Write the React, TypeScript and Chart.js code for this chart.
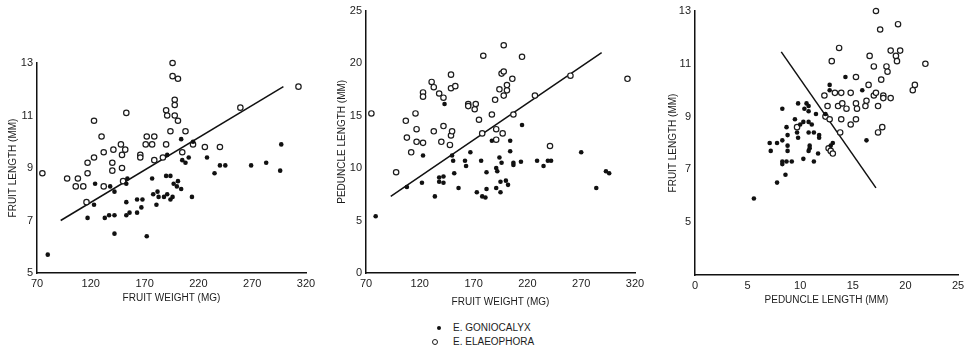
import React, { useEffect, useRef } from "react";
import { Chart, registerables } from "chart.js";

Chart.register(...registerables);

type Pt = [number, number];

// Panel 1: fruit weight (mg) vs fruit length (mm)
const wlGoniocalyx: Pt[] = [
  [80, 5.7], [117, 7.1], [123, 7.6], [124, 8.4], [133, 7.1], [137, 7.2], [142, 7.2], [142, 6.5],
  [138, 8.3], [142, 8.1], [153, 7.7], [153, 7.2], [153, 8.4], [154, 8.6], [156, 7.3], [163, 7.8],
  [163, 7.3], [167, 7.5], [168, 7.8], [172, 6.4], [177, 8.6], [178, 8.0], [182, 8.1], [181, 7.6],
  [183, 7.9], [188, 7.9], [191, 8.0], [190, 8.7], [194, 8.7], [194, 7.8], [196, 7.9], [197, 8.4],
  [200, 8.3], [201, 8.5], [204, 8.2], [191, 9.5], [204, 10.1], [205, 9.3], [208, 9.2], [211, 9.4],
  [214, 7.9], [215, 10.0], [228, 9.4], [235, 8.8], [240, 9.1], [245, 9.1], [269, 9.1], [283, 9.2],
  [296, 8.9], [297, 9.9],
];
const wlElaeophora: Pt[] = [
  [75, 8.8], [98, 8.6], [108, 8.6], [106, 8.3], [113, 8.3], [117, 8.8], [117, 9.2], [123, 9.4],
  [116, 7.7], [123, 10.8], [130, 10.2], [132, 9.6], [141, 9.7], [140, 9.2], [140, 8.9], [132, 8.3],
  [148, 9.9], [149, 9.5], [152, 9.7], [149, 9.0], [150, 8.5], [153, 11.1], [172, 10.2], [171, 9.9],
  [177, 9.9], [179, 10.2], [166, 9.5], [166, 9.4], [179, 9.3], [187, 9.4], [190, 9.9], [190, 11.2],
  [191, 11.0], [196, 13.0], [196, 12.5], [201, 12.4], [198, 11.6], [198, 11.4], [198, 11.0], [201, 10.8],
  [194, 10.4], [208, 10.4], [205, 9.6], [215, 9.9], [226, 9.8], [240, 9.8], [259, 11.3], [313, 12.1],
];
const wlLine: Pt[] = [[92, 7.0], [299, 12.1]];

// Panel 2: fruit weight (mg) vs peduncle length (mm)
const wpGoniocalyx: Pt[] = [
  [79, 5.4], [108, 8.2], [122, 8.6], [123, 11.2], [134, 7.3], [138, 8.7], [138, 9.1], [142, 8.6],
  [142, 9.2], [143, 16.1], [150, 11.2], [151, 10.7], [152, 9.5], [156, 8.1], [162, 10.7], [163, 10.2],
  [167, 11.5], [173, 7.7], [177, 10.7], [178, 7.3], [181, 7.2], [182, 9.6], [182, 8.0], [187, 12.6],
  [191, 10.0], [192, 9.7], [191, 8.1], [194, 11.0], [196, 10.5], [195, 7.7], [195, 8.7], [200, 8.8],
  [202, 8.4], [204, 12.6], [204, 11.6], [207, 10.5], [207, 10.3], [215, 14.1], [214, 10.6], [229, 10.7],
  [235, 10.2], [239, 10.7], [242, 10.7], [270, 11.5], [284, 8.1], [293, 9.7], [296, 9.5],
];
const wpElaeophora: Pt[] = [
  [75, 15.2], [98, 9.6], [107, 14.5], [108, 12.9], [112, 11.5], [116, 15.2], [117, 13.7], [117, 12.5],
  [123, 17.2], [123, 16.8], [123, 12.4], [131, 18.2], [133, 17.7], [133, 13.5], [138, 17.1], [140, 12.5],
  [142, 16.7], [142, 14.0], [149, 18.9], [149, 17.6], [149, 13.1], [150, 13.5], [153, 17.8], [148, 12.2],
  [165, 16.1], [165, 15.9], [172, 16.1], [171, 15.6], [175, 14.6], [179, 20.7], [178, 13.3], [187, 15.1],
  [190, 16.5], [191, 13.7], [191, 12.7], [194, 17.5], [196, 19.0], [198, 19.2], [198, 21.7], [197, 13.3],
  [198, 16.9], [201, 17.9], [201, 17.4], [206, 18.5], [207, 15.1], [215, 20.6], [227, 16.9], [241, 12.1],
  [260, 18.8], [313, 18.5],
];
const wpLine: Pt[] = [[93, 7.3], [289, 21.0]];

// Panel 3: peduncle length (mm) vs fruit length (mm)
const plGoniocalyx: Pt[] = [
  [5.6, 5.9], [7.8, 6.5], [8.6, 6.8], [7.1, 8.0], [7.2, 7.7], [7.8, 8.0], [8.3, 8.1], [8.3, 9.3],
  [8.7, 8.6], [8.8, 8.3], [8.8, 7.9], [8.8, 7.7], [8.3, 7.3], [8.3, 7.2], [8.7, 7.3], [9.2, 7.3],
  [9.5, 8.9], [9.7, 8.4], [9.8, 8.2], [9.8, 9.5], [10.0, 8.7], [10.3, 8.8], [10.4, 9.3], [10.3, 7.4],
  [10.6, 9.5], [10.8, 9.4], [10.8, 9.2], [10.8, 8.8], [10.8, 8.4], [10.9, 7.9], [10.9, 7.8], [10.8, 7.7],
  [11.1, 8.7], [11.3, 8.4], [11.3, 7.3], [11.5, 9.1], [11.7, 7.6], [11.8, 8.3], [11.8, 8.2], [12.4, 9.1],
  [12.8, 10.2], [12.8, 10.0], [12.9, 7.9], [13.1, 8.0], [14.3, 10.5], [15.9, 10.0], [16.3, 8.1],
];
const plElaeophora: Pt[] = [
  [17.2, 13.0], [17.6, 12.3], [19.3, 12.5], [13.7, 11.6], [13.0, 11.1], [16.6, 11.3], [17.0, 10.9],
  [18.6, 11.5], [19.1, 11.3], [19.5, 11.5], [19.2, 11.1], [18.2, 10.9], [18.3, 10.7], [21.9, 11.0],
  [17.7, 10.4], [15.3, 10.5], [16.5, 10.2], [20.9, 10.2], [20.7, 10.0], [12.3, 9.8], [13.3, 9.9],
  [13.9, 9.9], [14.8, 9.9], [12.6, 9.4], [13.6, 9.4], [14.0, 9.5], [14.4, 9.3], [15.3, 9.5],
  [15.4, 9.3], [16.2, 9.4], [16.3, 9.6], [17.0, 9.8], [17.4, 9.4], [17.2, 9.9], [17.9, 9.8],
  [17.9, 9.7], [18.6, 9.7], [12.4, 9.0], [12.8, 8.9], [13.9, 8.9], [14.8, 8.7], [15.3, 8.9],
  [13.8, 8.4], [17.4, 8.4], [17.8, 8.6], [9.7, 8.6], [12.7, 7.8], [12.9, 7.7], [13.1, 7.6],
];
const plLine: Pt[] = [[8.2, 11.45], [17.2, 6.3]];

const weightTicks = [70, 120, 170, 220, 270, 320];
const fruitLenTicks = [5, 7, 9, 11, 13];
const peduncleTicks = [0, 5, 10, 15, 20, 25];

const legendLabels = ["E. GONIOCALYX", "E. ELAEOPHORA"];

const FONT = "'Liberation Sans', Arial, sans-serif";
const INK = "#1c1c1c";

interface PanelCfg {
  left: number;
  width: number;
  height: number;
  padTop: number;
  padRight: number;
  yWidth: number;
  xHeight: number;
  xMin: number;
  xMax: number;
  xTicks: number[];
  yMin: number;
  yMax: number;
  yTicks: number[];
  xTitle: string;
  yTitle: string;
  xTitlePad: number;
  yTitlePad: number;
  gonio: Pt[];
  elaeo: Pt[];
  line: Pt[];
}

const toXY = (a: Pt[]) => a.map(([x, y]) => ({ x, y }));

function Panel({ cfg }: { cfg: PanelCfg }) {
  const ref = useRef<HTMLCanvasElement>(null);
  useEffect(() => {
    const titleFont = { family: FONT, size: 10 };
    const tickFont = { family: FONT, size: 11 };
    const chart = new Chart(ref.current!, {
      type: "scatter",
      data: {
        datasets: [
          {
            label: legendLabels[0],
            data: toXY(cfg.gonio),
            pointRadius: 2.3,
            pointBackgroundColor: "#111",
            pointBorderColor: "#111",
            pointBorderWidth: 0,
            clip: false,
          },
          {
            label: legendLabels[1],
            data: toXY(cfg.elaeo),
            pointRadius: 2.7,
            pointBackgroundColor: "#fff",
            pointBorderColor: INK,
            pointBorderWidth: 1.2,
            clip: false,
          },
          {
            label: "fit",
            data: toXY(cfg.line),
            showLine: true,
            borderColor: "#111",
            borderWidth: 1.5,
            pointRadius: 0,
            clip: false,
          },
        ],
      },
      options: {
        responsive: false,
        animation: false,
        devicePixelRatio: 1,
        events: [],
        layout: { padding: { top: cfg.padTop, right: cfg.padRight, left: 0, bottom: 0 } },
        plugins: { legend: { display: false }, tooltip: { enabled: false } },
        scales: {
          x: {
            type: "linear",
            min: cfg.xMin,
            max: cfg.xMax,
            afterFit: (s: any) => {
              s.height = cfg.xHeight;
            },
            afterBuildTicks: (s: any) => {
              s.ticks = cfg.xTicks.map((v) => ({ value: v }));
            },
            ticks: { padding: 4, color: INK, font: tickFont, maxRotation: 0, autoSkip: false },
            grid: { display: false, drawTicks: false, tickLength: 0 },
            border: { display: true, color: "#111", width: 1.5 },
            title: {
              display: true,
              text: cfg.xTitle,
              color: INK,
              font: titleFont,
              padding: { top: 0, bottom: cfg.xTitlePad },
            },
          },
          y: {
            type: "linear",
            min: cfg.yMin,
            max: cfg.yMax,
            afterFit: (s: any) => {
              s.width = cfg.yWidth;
            },
            afterBuildTicks: (s: any) => {
              s.ticks = cfg.yTicks.map((v) => ({ value: v }));
            },
            ticks: { padding: 4, color: INK, font: tickFont, autoSkip: false },
            grid: { display: false, drawTicks: false, tickLength: 0 },
            border: { display: true, color: "#111", width: 1.5 },
            title: {
              display: true,
              text: cfg.yTitle,
              color: INK,
              font: titleFont,
              padding: { top: cfg.yTitlePad, bottom: 0 },
            },
          },
        },
      } as any,
    });
    return () => chart.destroy();
  }, [cfg]);
  return (
    <canvas
      ref={ref}
      width={cfg.width}
      height={cfg.height}
      style={{ position: "absolute", left: cfg.left, top: 0, width: cfg.width, height: cfg.height }}
    />
  );
}

const panels: PanelCfg[] = [
  {
    left: 0, width: 320, height: 310, padTop: 63, padRight: 14, yWidth: 37, xHeight: 37,
    xMin: 70, xMax: 320, xTicks: weightTicks, yMin: 5, yMax: 13, yTicks: fruitLenTicks,
    xTitle: "FRUIT WEIGHT (MG)", yTitle: "FRUIT LENGTH (MM)", xTitlePad: 6, yTitlePad: 7,
    gonio: wlGoniocalyx, elaeo: wlElaeophora, line: wlLine,
  },
  {
    left: 320, width: 330, height: 310, padTop: 10, padRight: 15, yWidth: 46, xHeight: 37,
    xMin: 70, xMax: 320, xTicks: weightTicks, yMin: 0, yMax: 25, yTicks: peduncleTicks,
    xTitle: "FRUIT WEIGHT (MG)", yTitle: "PEDUNCLE LENGTH (MM)", xTitlePad: 2, yTitlePad: 16,
    gonio: wpGoniocalyx, elaeo: wpElaeophora, line: wpLine,
  },
  {
    left: 650, width: 319, height: 310, padTop: 11, padRight: 11, yWidth: 45, xHeight: 35,
    xMin: 0, xMax: 25, xTicks: peduncleTicks, yMin: 3, yMax: 13, yTicks: fruitLenTicks,
    xTitle: "PEDUNCLE LENGTH (MM)", yTitle: "FRUIT LENGTH (MM)", xTitlePad: 4, yTitlePad: 17,
    gonio: plGoniocalyx, elaeo: plElaeophora, line: plLine,
  },
];

export default function App() {
  const textStyle: React.CSSProperties = {
    position: "absolute",
    left: 453,
    fontFamily: FONT,
    fontSize: 10,
    color: INK,
    lineHeight: "12px",
    whiteSpace: "nowrap",
  };
  return (
    <div
      style={{
        position: "absolute",
        left: 0,
        top: 0,
        width: 969,
        height: 357,
        background: "#fff",
        overflow: "hidden",
      }}
    >
      {panels.map((p, i) => (
        <Panel key={i} cfg={p} />
      ))}
      <div
        style={{
          position: "absolute",
          left: 437,
          top: 326,
          width: 4,
          height: 4,
          borderRadius: "50%",
          background: "#111",
        }}
      />
      <div style={{ ...textStyle, top: 322 }}>{legendLabels[0]}</div>
      <div
        style={{
          position: "absolute",
          left: 432,
          top: 339,
          width: 4,
          height: 4,
          borderRadius: "50%",
          border: `1.2px solid ${INK}`,
          background: "#fff",
        }}
      />
      <div style={{ ...textStyle, top: 336 }}>{legendLabels[1]}</div>
    </div>
  );
}
